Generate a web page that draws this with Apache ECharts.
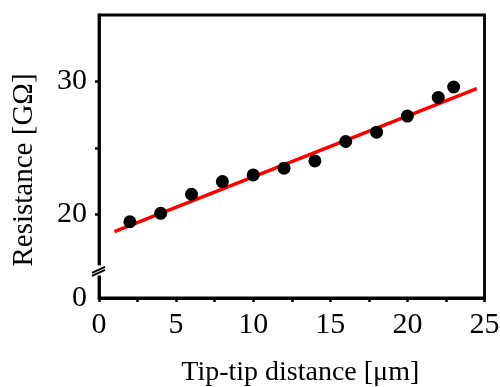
<!DOCTYPE html>
<html>
<head>
<meta charset="utf-8">
<script src="https://cdn.jsdelivr.net/npm/echarts@6/dist/echarts.min.js"></script>
<style>html,body{margin:0;padding:0;background:#fff}#c{width:500px;height:387px}</style>
</head>
<body>
<div id="c"></div>
<script>
// Data
var distance = [2, 4, 6, 8, 10, 12, 14, 16, 18, 20, 22, 23];
var resistance = [19.44, 20.07, 21.51, 22.46, 22.96, 23.47, 24.02, 25.48, 26.18, 27.39, 28.80, 29.58];
var fitX = [1, 24.5];
var fitY = [18.69, 29.45];
var xTicks = [0, 5, 10, 15, 20, 25];
var yLabelValues = [13.7, 20, 30];   // 13.7 is the broken-axis bottom, shown as "0"
var yLabelTexts = ['0', '20', '30'];
var yTickValues = [20, 25, 30];
var yMin = 13.7, yMax = 35;
var breakValue = 15.7;

var FONT = 'Liberation Serif';
var chart = echarts.init(document.getElementById('c'));
var option = {
  animation: false,
  grid: {left: 99, right: 15.5, top: 15, bottom: 89, outerBoundsMode: 'none', containLabel: false,
    show: true, borderColor: '#000', borderWidth: 2.8, backgroundColor: 'transparent'},
  xAxis: {
    type: 'value', min: 0, max: 25, interval: 5,
    name: 'Tip-tip distance [μm]', nameLocation: 'middle', nameGap: 61,
    nameTextStyle: {fontFamily: FONT, fontSize: 28, color: '#000', padding: [0, 0, 0, 17]},
    axisLine: {show: true, lineStyle: {color: '#000', width: 2.8}},
    axisTick: {show: true, inside: false, length: 4, lineStyle: {color: '#000', width: 2.5}},
    minorTick: {show: true, splitNumber: 2, length: 4, lineStyle: {color: '#000', width: 2.5}},
    splitLine: {show: false},
    axisLabel: {fontFamily: FONT, fontSize: 30, color: '#000', margin: 12,
      customValues: xTicks, formatter: function (v) { return String(v); }}
  },
  yAxis: {
    type: 'value', min: yMin, max: yMax,
    name: 'Resistance [GΩ]', nameLocation: 'middle', nameGap: 60, nameRotate: 90,
    nameTextStyle: {fontFamily: FONT, fontSize: 29, color: '#000', padding: [0, 27, 0, 0]},
    axisLine: {show: true, lineStyle: {color: '#000', width: 2.8}},
    axisTick: {show: true, inside: false, length: 4, customValues: yTickValues, lineStyle: {color: '#000', width: 2.5}},
    splitLine: {show: false},
    axisLabel: {fontFamily: FONT, fontSize: 30, color: '#000', margin: 12,
      customValues: yLabelValues,
      formatter: function (v) {
        for (var i = 0; i < yLabelValues.length; i++) if (Math.abs(v - yLabelValues[i]) < 1e-6) return yLabelTexts[i];
        return '';
      }}
  },
  series: [
    {type: 'line', data: fitX.map(function (x, i) { return [x, fitY[i]]; }),
      showSymbol: false, symbol: 'none', lineStyle: {color: '#ff0000', width: 3.5}, z: 2},
    {type: 'scatter', data: distance.map(function (x, i) { return [x, resistance[i]]; }),
      symbol: 'circle', symbolSize: 13, itemStyle: {color: '#000', opacity: 1}, z: 3}
  ]
};
chart.setOption(option);

// axis break mark
var p = chart.convertToPixel({gridIndex: 0}, [0, breakValue]);
var ax = p[0], ay = p[1];
chart.setOption({
  graphic: [
    {type: 'rect', shape: {x: ax - 4, y: ay - 6, width: 8, height: 10}, style: {fill: '#fff'}, z: 100},
    {type: 'line', shape: {x1: ax - 7, y1: ay + 1.5, x2: ax + 6, y2: ay - 4.5}, style: {stroke: '#000', lineWidth: 2}, z: 101},
    {type: 'line', shape: {x1: ax - 7, y1: ay + 4.5, x2: ax + 6, y2: ay - 1.5}, style: {stroke: '#000', lineWidth: 2}, z: 101}
  ]
});
</script>
</body>
</html>
